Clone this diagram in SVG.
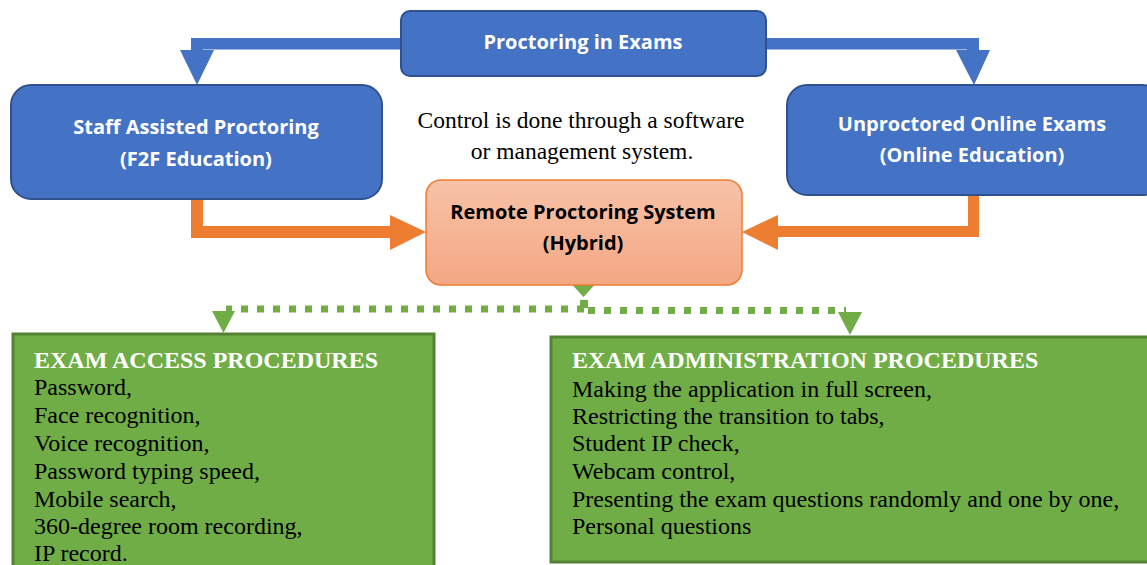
<svg xmlns="http://www.w3.org/2000/svg" width="1147" height="565" viewBox="0 0 1147 565">
<style>
.blue{fill:#4472c4;stroke:#2f528f;stroke-width:2}
.bt{font-family:"Open Sans","Liberation Sans",sans-serif;font-weight:bold;font-size:20px;fill:#ffffff;text-anchor:middle}
.ot{font-family:"Open Sans","Liberation Sans",sans-serif;font-weight:bold;font-size:20px;fill:#000000;text-anchor:middle}
.green{fill:#70ad47;stroke:#548235;stroke-width:3}
.tt{font-family:"Liberation Serif","Times New Roman",serif;font-size:24px;fill:#000000}
.mt{font-family:"Liberation Serif","Times New Roman",serif;font-size:23.5px;fill:#000000;text-anchor:middle}
.th{font-family:"Liberation Serif","Times New Roman",serif;font-size:24px;font-weight:bold;fill:#ffffff}
.orr{fill:#ed7d31}
.bla{fill:#4472c4}
.dot{fill:none;stroke:#70ad47;stroke-width:7;stroke-dasharray:7 9}
</style>
<defs>
<linearGradient id="og" x1="0" y1="0" x2="0" y2="1">
<stop offset="0" stop-color="#f8c2a8"/>
<stop offset="1" stop-color="#f4a783"/>
</linearGradient>
</defs>
<g id="connectors">
<path class="bla" d="M401,38 H191 V50 H180 L197,85 L214,50 H203 V49.5 H401 Z"/>
<path class="bla" d="M766,38 H979 V50 H990 L974,85 L956,50 H967 V49.5 H766 Z"/>
<path class="orr" d="M191,199 H203 V226 H390 V215 L426,232 L390,250 V238 H191 Z"/>
<path class="orr" d="M979,195 H968 V226 H778 V215 L742,232 L778,250 V237 H979 Z"/>
<path class="dot" d="M584,309 H226"/>
<path class="dot" d="M588,310.5 H846"/>
<rect x="580" y="300" width="8" height="8" fill="#70ad47"/>
<polygon points="212,311 235,311 223.5,333" fill="#70ad47"/>
<polygon points="838,312 862,312 850,335" fill="#70ad47"/>
<polygon points="583.5,272 595,284.5 583.5,297 572,284.5" fill="#70ad47"/>
</g>
<g id="node-proctoring">
<rect class="blue" x="401" y="11" width="365" height="65" rx="9"/>
<text class="bt" x="583" y="49">Proctoring in Exams</text>
</g>
<g id="node-staff">
<rect class="blue" x="11" y="85" width="371" height="114" rx="20"/>
<text class="bt" x="196" y="134">Staff Assisted Proctoring</text>
<text class="bt" x="196" y="166">(F2F Education)</text>
</g>
<g id="node-unproctored">
<rect class="blue" x="787" y="85" width="375" height="110" rx="20"/>
<text class="bt" x="972" y="131">Unproctored Online Exams</text>
<text class="bt" x="972" y="162">(Online Education)</text>
</g>
<g id="node-note">
<text class="mt" x="581" y="128">Control is done through a software</text>
<text class="mt" x="582" y="159">or management system.</text>
</g>
<g id="node-remote">
<rect x="426" y="180" width="316" height="105" rx="15" fill="url(#og)" stroke="#ed7d31" stroke-width="1.5"/>
<text class="ot" x="583" y="219">Remote Proctoring System</text>
<text class="ot" x="583" y="250">(Hybrid)</text>
</g>
<g id="node-access">
<rect class="green" x="13" y="334" width="421" height="240"/>
<text class="th" x="34" y="368">EXAM ACCESS PROCEDURES</text>
<text class="tt" x="34" y="395">Password,</text>
<text class="tt" x="34" y="423">Face recognition,</text>
<text class="tt" x="34" y="451">Voice recognition,</text>
<text class="tt" x="34" y="479">Password typing speed,</text>
<text class="tt" x="34" y="507">Mobile search,</text>
<text class="tt" x="34" y="534">360-degree room recording,</text>
<text class="tt" x="34" y="561">IP record.</text>
</g>
<g id="node-admin">
<rect class="green" x="551" y="337" width="610" height="225"/>
<text class="th" x="572" y="368">EXAM ADMINISTRATION PROCEDURES</text>
<text class="tt" x="572" y="397">Making the application in full screen,</text>
<text class="tt" x="572" y="424">Restricting the transition to tabs,</text>
<text class="tt" x="572" y="451">Student IP check,</text>
<text class="tt" x="572" y="479">Webcam control,</text>
<text class="tt" x="572" y="507">Presenting the exam questions randomly and one by one,</text>
<text class="tt" x="572" y="534">Personal questions</text>
</g>
</svg>
